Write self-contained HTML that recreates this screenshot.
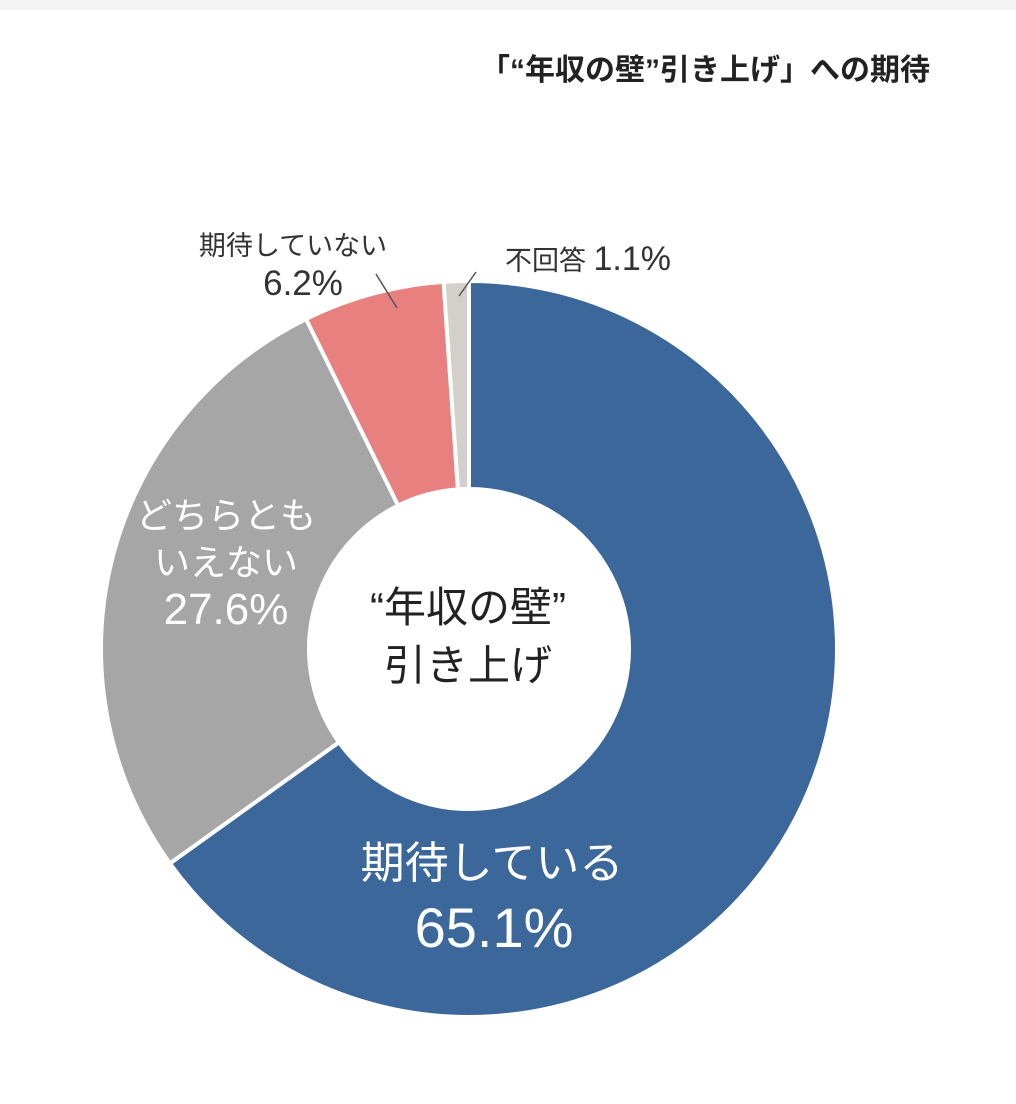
<!DOCTYPE html>
<html><head><meta charset="utf-8"><style>
body{margin:0;background:#fff;width:1016px;height:1104px;overflow:hidden;font-family:"Liberation Sans","Noto Sans CJK JP",sans-serif;}
</style></head><body>
<div style="position:absolute;left:0;top:0;width:1016px;height:10px;background:#f3f3f3;"></div>
<svg width="1016" height="1104" style="position:absolute;left:0;top:0" font-family="'Liberation Sans','Noto Sans CJK JP',sans-serif">
<text x="930" y="80" text-anchor="end" font-size="30" font-weight="bold" fill="#222">「“年収の壁”引き上げ」への期待</text>
<g id="d"></g>
<line x1="376" y1="274" x2="397" y2="308" stroke="#555" stroke-width="1.5"/>
<line x1="476" y1="272" x2="459" y2="296" stroke="#555" stroke-width="1.5"/>
<text x="293" y="255" text-anchor="middle" font-size="27" fill="#333">期待していない</text>
<text x="303" y="295" text-anchor="middle" font-size="35" fill="#333">6.2%</text>
<text x="505" y="270" font-size="27" fill="#333">不回答 <tspan font-size="34">1.1%</tspan></text>
<g font-size="36" fill="#fff" text-anchor="middle">
<text x="226" y="528">どちらとも</text>
<text x="226" y="575">いえない</text>
<text x="226" y="624" font-size="44">27.6%</text>
</g>
<g font-size="44" fill="#fff" text-anchor="middle">
<text x="492" y="878">期待している</text>
<text x="494" y="947" font-size="56">65.1%</text>
</g>
<g font-size="42" fill="#222" text-anchor="middle">
<text x="468" y="622">“年収の壁”</text>
<text x="468" y="680">引き上げ</text>
</g>
</svg>
<script>
var cx=469,cy=649,R=368,r=160;
var segs=[[65.1,"#3b679b"],[27.6,"#a6a6a6"],[6.2,"#e98080"],[1.1,"#d3d0cc"]];
var g=document.getElementById("d"),a=0,h="";
function pt(ang,rad){var t=ang/100*2*Math.PI;return (cx+rad*Math.sin(t)).toFixed(2)+","+(cy-rad*Math.cos(t)).toFixed(2);}
segs.forEach(function(s){var b=a+s[0],l=s[0]>50?1:0;
h+='<path d="M'+pt(a,R)+' A'+R+','+R+' 0 '+l+' 1 '+pt(b,R)+' L'+pt(b,r)+' A'+r+','+r+' 0 '+l+' 0 '+pt(a,r)+' Z" fill="'+s[1]+'" stroke="#fff" stroke-width="4"/>';a=b;});
g.innerHTML=h;
</script>
</body></html>
